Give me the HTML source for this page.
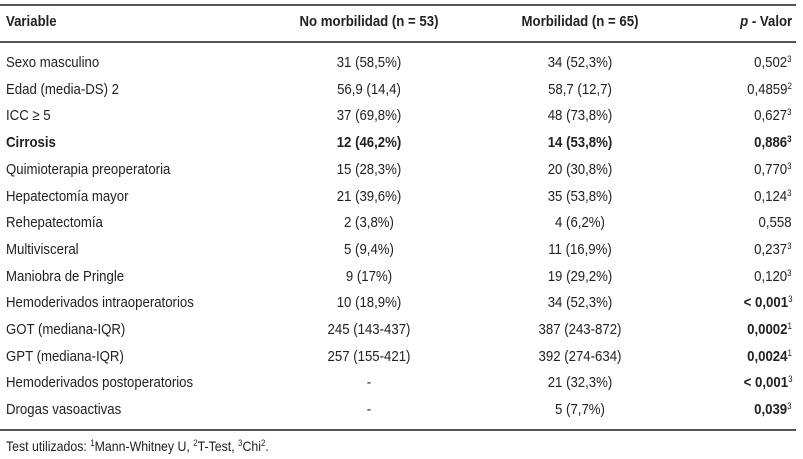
<!DOCTYPE html>
<html><head><meta charset="utf-8"><style>
body{margin:0;width:803px;height:459px;background:#fff;position:relative;overflow:hidden;
font-family:"Liberation Sans",sans-serif;font-size:15px;color:#222}
.l{position:absolute;left:0;width:796px;height:2px;background:#555}
.r{position:absolute;left:0;width:796px;height:20px;line-height:20px}
.r span{position:absolute;white-space:nowrap;transform:scaleX(0.88)}
.a{left:6px;transform-origin:left center}.b{left:269px;width:200px;text-align:center;transform-origin:center}.c{left:480px;width:200px;text-align:center;transform-origin:center}.d{right:4px;text-align:right;transform-origin:right center}
sup{font-size:9px;vertical-align:5px;line-height:0}
b{font-weight:bold}
</style></head><body>
<div class="l" style="top:4px"></div>
<div class="l" style="top:41px"></div>
<div class="l" style="top:429px"></div>
<div class="r" style="top:12px;font-weight:bold"><span class="a">Variable</span><span class="b">No morbilidad (n = 53)</span><span class="c">Morbilidad (n = 65)</span><span class="d"><i>p</i> - Valor</span></div>
<div class="r" style="top:53px"><span class="a">Sexo masculino</span><span class="b">31 (58,5%)</span><span class="c">34 (52,3%)</span><span class="d">0,502<sup>3</sup></span></div>
<div class="r" style="top:79.7px"><span class="a">Edad (media-DS) 2</span><span class="b">56,9 (14,4)</span><span class="c">58,7 (12,7)</span><span class="d">0,4859<sup>2</sup></span></div>
<div class="r" style="top:106.4px"><span class="a">ICC ≥ 5</span><span class="b">37 (69,8%)</span><span class="c">48 (73,8%)</span><span class="d">0,627<sup>3</sup></span></div>
<div class="r" style="top:133.1px;font-weight:bold"><span class="a">Cirrosis</span><span class="b">12 (46,2%)</span><span class="c">14 (53,8%)</span><span class="d">0,886<sup>3</sup></span></div>
<div class="r" style="top:159.8px"><span class="a">Quimioterapia preoperatoria</span><span class="b">15 (28,3%)</span><span class="c">20 (30,8%)</span><span class="d">0,770<sup>3</sup></span></div>
<div class="r" style="top:186.5px"><span class="a">Hepatectomía mayor</span><span class="b">21 (39,6%)</span><span class="c">35 (53,8%)</span><span class="d">0,124<sup>3</sup></span></div>
<div class="r" style="top:213.2px"><span class="a">Rehepatectomía</span><span class="b">2 (3,8%)</span><span class="c">4 (6,2%)</span><span class="d">0,558</span></div>
<div class="r" style="top:239.9px"><span class="a">Multivisceral</span><span class="b">5 (9,4%)</span><span class="c">11 (16,9%)</span><span class="d">0,237<sup>3</sup></span></div>
<div class="r" style="top:266.6px"><span class="a">Maniobra de Pringle</span><span class="b">9 (17%)</span><span class="c">19 (29,2%)</span><span class="d">0,120<sup>3</sup></span></div>
<div class="r" style="top:293.3px"><span class="a">Hemoderivados intraoperatorios</span><span class="b">10 (18,9%)</span><span class="c">34 (52,3%)</span><span class="d"><b>&lt; 0,001</b><sup>3</sup></span></div>
<div class="r" style="top:320px"><span class="a">GOT (mediana-IQR)</span><span class="b">245 (143-437)</span><span class="c">387 (243-872)</span><span class="d"><b>0,0002</b><sup>1</sup></span></div>
<div class="r" style="top:346.7px"><span class="a">GPT (mediana-IQR)</span><span class="b">257 (155-421)</span><span class="c">392 (274-634)</span><span class="d"><b>0,0024</b><sup>1</sup></span></div>
<div class="r" style="top:373.4px"><span class="a">Hemoderivados postoperatorios</span><span class="b">-</span><span class="c">21 (32,3%)</span><span class="d"><b>&lt; 0,001</b><sup>3</sup></span></div>
<div class="r" style="top:400.1px"><span class="a">Drogas vasoactivas</span><span class="b">-</span><span class="c">5 (7,7%)</span><span class="d"><b>0,039</b><sup>3</sup></span></div>
<div class="r" style="top:436px;font-size:14px"><span class="a">Test utilizados: <sup>1</sup>Mann-Whitney U, <sup>2</sup>T-Test, <sup>3</sup>Chi<sup>2</sup>.</span></div>
</body></html>
